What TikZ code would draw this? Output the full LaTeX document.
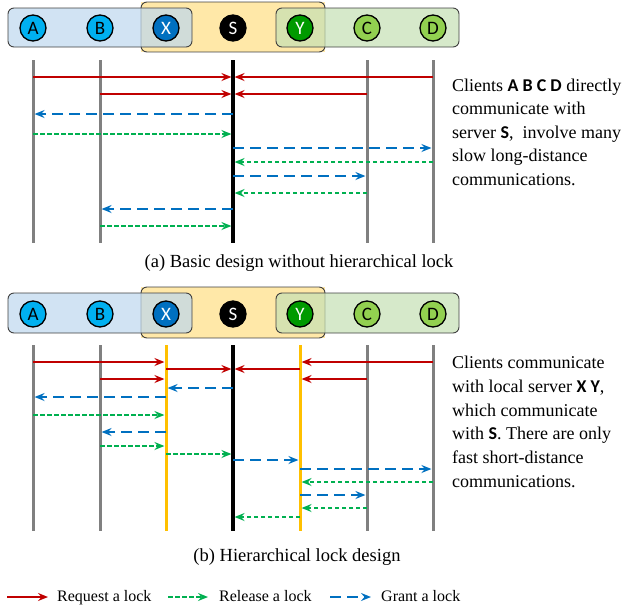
\documentclass[tikz,border=0pt]{standalone}
\usepackage{fontspec}
\setmainfont{Liberation Serif}
\newfontfamily\calib{Carlito}
\usetikzlibrary{arrows.meta}
\definecolor{reqc}{HTML}{C00000}
\definecolor{relc}{HTML}{00B050}
\definecolor{grc}{HTML}{0070C0}
\definecolor{cliblue}{HTML}{00B0F0}
\definecolor{srvblue}{HTML}{0070C0}
\definecolor{srvgreen}{HTML}{009A00}
\definecolor{cligreen}{HTML}{92D050}
\definecolor{boxblue}{HTML}{BDD7EE}
\definecolor{boxyellow}{HTML}{FFE8A8}
\definecolor{boxgreen}{HTML}{C5E0B4}
\definecolor{boxline}{HTML}{404040}
\definecolor{lifegrey}{HTML}{808080}
\definecolor{lifeorange}{HTML}{FFC000}
\tikzset{
  grp/.style={draw=boxline, line width=0.9pt, rounded corners=6pt},
  ent/.style={circle, draw=black, line width=1.3pt, minimum size=26pt, inner sep=0pt,
              font=\calib\fontsize{19}{19}\selectfont},
  life/.style={line width=3pt, draw=lifegrey},
  lifeS/.style={line width=3.5pt, draw=black},
  lifeL/.style={line width=3pt, draw=lifeorange},
  tipstyle/.style={-{Stealth[length=10pt,width=8pt,inset=3.5pt]}},
  req/.style={tipstyle, draw=reqc, line width=1.7pt, shorten >=1.6pt},
  rel/.style={tipstyle, draw=relc, line width=1.8pt, dash pattern=on 4.5pt off 2.5pt, shorten >=1.6pt},
  grant/.style={tipstyle, draw=grc, line width=2pt, dash pattern=on 11pt off 6pt, shorten >=1.6pt},
  body/.style={font=\fontsize{18}{23.5}\selectfont, align=left, inner sep=0pt},
  capt/.style={font=\fontsize{18.5}{22}\selectfont, inner sep=0pt},
  legt/.style={font=\fontsize{16}{18}\selectfont, inner sep=0pt, anchor=base west}
}
\newcommand\msg[4]{\draw[#1] (#2 |- 0,#4) -- (#3 |- 0,#4);}
\begin{document}
\begin{tikzpicture}[x=1pt,y=-1pt]
\useasboundingbox (0,0) rectangle (633,606);

% ---------------- Panel (a) ----------------
\fill[boxyellow] (141,2) rectangle (325,52);
\draw[grp] (141,2) rectangle (325,52);
\draw[grp, fill=boxblue, fill opacity=0.7] (8,8) rectangle (192,47);
\draw[grp, fill=boxgreen, fill opacity=0.7] (276,8) rectangle (459,47);

\node[ent, fill=cliblue] (a1) at (33,28) {A};
\node[ent, fill=cliblue] (b1) at (100,28) {B};
\node[ent, fill=srvblue, text=white] (x1) at (166,28) {X};
\node[ent, fill=black, text=white] (s1) at (233,28) {S};
\node[ent, fill=srvgreen, text=white] (y1) at (300,28) {Y};
\node[ent, fill=cligreen] (c1) at (367,28) {C};
\node[ent, fill=cligreen] (d1) at (433,28) {D};

\draw[life] (a1 |- 0,60) -- (a1 |- 0,243);
\draw[life] (b1 |- 0,60) -- (b1 |- 0,243);
\draw[life] (c1 |- 0,60) -- (c1 |- 0,243);
\draw[life] (d1 |- 0,60) -- (d1 |- 0,243);
\draw[lifeS] (s1 |- 0,60) -- (s1 |- 0,243);

\msg{req}{a1}{s1}{77}
\msg{req}{d1}{s1}{77}
\msg{req}{b1}{s1}{94}
\msg{req}{c1}{s1}{94}
\msg{grant}{s1}{a1}{114}
\msg{rel}{a1}{s1}{134}
\msg{grant}{s1}{d1}{148}
\msg{rel}{d1}{s1}{162}
\msg{grant}{s1}{c1}{176}
\msg{rel}{c1}{s1}{193}
\msg{grant}{s1}{b1}{209}
\msg{rel}{b1}{s1}{226}

\node[body, anchor=north west] (t1) at (452,78.5) {Clients {\calib\bfseries A B C D} directly\\communicate with\\server {\calib\bfseries S},\ \ involve many\\slow long-distance\\communications.};
\node[capt, anchor=base] (cap1) at (299,267) {(a) Basic design without hierarchical lock};

% ---------------- Panel (b) ----------------
\fill[boxyellow] (141,287) rectangle (325,338);
\draw[grp] (141,287) rectangle (325,338);
\draw[grp, fill=boxblue, fill opacity=0.7] (8,293) rectangle (192,333);
\draw[grp, fill=boxgreen, fill opacity=0.7] (276,293) rectangle (459,333);

\node[ent, fill=cliblue] (a2) at (33,314) {A};
\node[ent, fill=cliblue] (b2) at (100,314) {B};
\node[ent, fill=srvblue, text=white] (x2) at (166,314) {X};
\node[ent, fill=black, text=white] (s2) at (233,314) {S};
\node[ent, fill=srvgreen, text=white] (y2) at (300,314) {Y};
\node[ent, fill=cligreen] (c2) at (367,314) {C};
\node[ent, fill=cligreen] (d2) at (433,314) {D};

\draw[life] (a2 |- 0,345) -- (a2 |- 0,531);
\draw[life] (b2 |- 0,345) -- (b2 |- 0,531);
\draw[life] (c2 |- 0,345) -- (c2 |- 0,531);
\draw[life] (d2 |- 0,345) -- (d2 |- 0,531);
\draw[lifeL] (x2 |- 0,345) -- (x2 |- 0,531);
\draw[lifeL] (y2 |- 0,345) -- (y2 |- 0,531);
\draw[lifeS] (s2 |- 0,345) -- (s2 |- 0,531);

\msg{req}{a2}{x2}{362}
\msg{req}{d2}{y2}{362}
\msg{req}{x2}{s2}{369}
\msg{req}{y2}{s2}{369}
\msg{req}{b2}{x2}{379}
\msg{req}{c2}{y2}{379}
\msg{grant}{s2}{x2}{388}
\msg{grant}{x2}{a2}{397}
\msg{rel}{a2}{x2}{415}
\msg{grant}{x2}{b2}{432}
\msg{rel}{b2}{x2}{446}
\msg{rel}{x2}{s2}{454}
\msg{grant}{s2}{y2}{460}
\msg{grant}{y2}{d2}{469}
\msg{rel}{d2}{y2}{482}
\msg{grant}{y2}{c2}{495}
\msg{rel}{c2}{y2}{508}
\msg{rel}{y2}{s2}{517}

\node[body, anchor=north west, font=\fontsize{18}{23.7}\selectfont] (t2) at (452,356) {Clients communicate\\with local server {\calib\bfseries X Y},\\which communicate\\with {\calib\bfseries S}. There are only\\fast short-distance\\communications.};
\node[capt, anchor=base] (cap2) at (297,561) {(b) Hierarchical lock design};

% ---------------- Legend ----------------
\coordinate (l1s) at (7,597);  \coordinate (l1e) at (48,597);
\coordinate (l2s) at (168,597); \coordinate (l2e) at (208,597);
\coordinate (l3s) at (330,597); \coordinate (l3e) at (371,597);
\draw[req, shorten >=0pt] (l1s) -- (l1e);
\draw[rel, shorten >=0pt] (l2s) -- (l2e);
\draw[grant, shorten >=0pt] (l3s) -- (l3e);
\node[legt] (lt1) at (57,601.5) {Request a lock};
\node[legt] (lt2) at (219,601.5) {Release a lock};
\node[legt] (lt3) at (381,601.5) {Grant a lock};
\end{tikzpicture}
\end{document}
